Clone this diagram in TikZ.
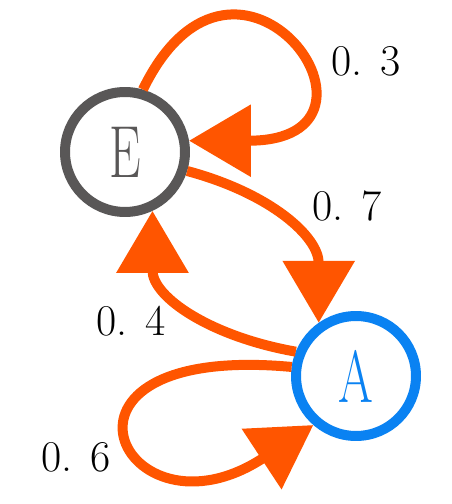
\documentclass[tikz,border=0pt]{standalone}
\usepackage{tikz}
\usetikzlibrary{positioning, calc, arrows.meta}
\definecolor{Stone}{HTML}{595757}
\definecolor{Sky}{HTML}{0A82F2}
\definecolor{Flame}{HTML}{FF5500}
\newcommand{\narrow}[1]{\scalebox{0.68}[1]{#1}}
\tikzset{
    state/.style={circle, line width=0.2cm, minimum size=2.4cm, inner sep=0pt, fill=white, font=\fontsize{42}{48}\selectfont},
    trans/.style={-{Triangle[length=1.24cm, width=1.4cm]}, line width=0.2cm, color=Flame},
    prob/.style={font=\fontsize{25}{30}\selectfont, text=black},
}

\begin{document}
\begin{tikzpicture}[x=0.02cm, y=0.02cm]
        % --- Canvas ---
        \useasboundingbox (0,0) rectangle (451,504);

        % --- States ---
        \node[state, draw=Stone, text=Stone] (E) at (125,352) {\narrow{E}};
        \node[state, draw=Sky, text=Sky]     (A) at (356,128) {\narrow{A}};

        % --- Transitions ---
        \draw[trans] (E.74) .. controls +(95,195) and +(225,0) .. (E.10);
        \draw[trans] (E.-17) to[out=-15, in=90, looseness=1.1] (A.125);
        \draw[trans] (A.158) to[out=170, in=-90, looseness=1.1] (E.-65);
        \draw[trans] (A.172) .. controls +(-270,25) and +(-190,-125) .. (A.-131);

        % Probabilities
        \node[prob] (p3) at (366,443) {0. 3};
        \node[prob] (p7) at (347,298) {0. 7};
        \node[prob] (p4) at (131,183) {0. 4};
        \node[prob] (p6) at (76,47)   {0. 6};
    \end{tikzpicture}
\end{document}
